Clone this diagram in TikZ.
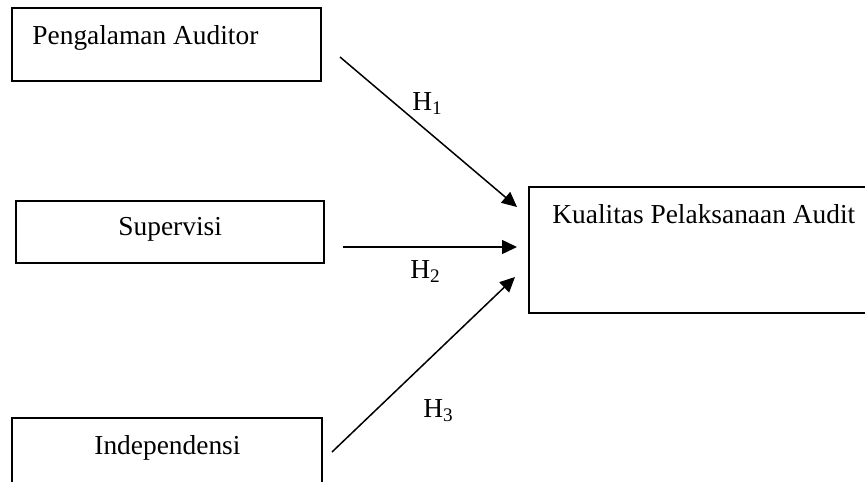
\documentclass[tikz,border=0pt]{standalone}
\usepackage{fontspec}
\setmainfont{Liberation Serif}
\usetikzlibrary{arrows.meta}

\begin{document}
\begin{tikzpicture}[x=0.5pt, y=-0.5pt,
    kotak/.style={draw, line width=0.9pt, inner sep=0pt},
    teks/.style={anchor=base west, inner sep=0pt, font=\fontsize{13.7}{16}\selectfont},
    panah/.style={line width=0.75pt, -{Triangle[length=7.5pt, width=7pt]}}]
    \useasboundingbox (0,0) rectangle (865,481);
    \clip (0,0) rectangle (865,481);
    \node[kotak, minimum width=154.5pt, minimum height=36.5pt] (PA) at (166.5,44.5) {};
    \node[kotak, minimum width=154pt, minimum height=31pt] (S) at (170,232) {};
    \node[kotak, minimum width=155pt, minimum height=41pt] (I) at (167,459) {};
    \node[kotak, minimum width=175.5pt, minimum height=63pt] (K) at (704.5,250) {};
    \node[teks] (tPA) at (32,45) {Pengalaman Auditor};
    \node[teks] (tS) at (118,235) {Supervisi};
    \node[teks] (tI) at (94,454) {Independensi};
    \node[teks] (tK) at (552,223) {Kualitas Pelaksanaan Audit};
    \coordinate (A1) at (340,57);  \coordinate (B1) at (517,207);
    \coordinate (A2) at (343,247); \coordinate (B2) at (517,247);
    \coordinate (A3) at (332,452); \coordinate (B3) at (515,277);
    \draw[panah] (A1) -- (B1);
    \draw[panah] (A2) -- (B2);
    \draw[panah] (A3) -- (B3);
    \node[teks] (H1) at (412,110) {H\textsubscript{1}};
    \node[teks] (H2) at (410,278) {H\textsubscript{2}};
    \node[teks] (H3) at (423,417) {H\textsubscript{3}};
\end{tikzpicture}
\end{document}
